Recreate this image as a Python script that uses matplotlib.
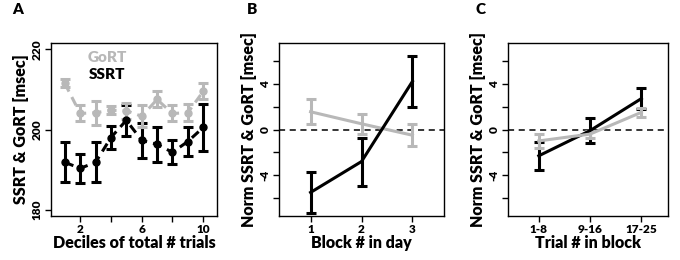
import numpy as np
import matplotlib.pyplot as plt

plt.rcParams['font.family'] = ['Lato', 'DejaVu Sans']
plt.rcParams['font.weight'] = 'heavy'

GRAY = '#b8b8b8'
W = 'heavy'

# panel A: deciles
dec = np.arange(1, 11)
gort_a = [211.5, 204.0, 204.2, 204.8, 204.7, 203.3, 207.5, 204.0, 204.2, 209.5]
gort_a_err = [1.0, 2.0, 3.0, 1.0, 2.0, 2.7, 2.0, 2.0, 2.2, 2.0]
ssrt_a = [191.8, 190.3, 191.8, 198.0, 202.3, 197.3, 196.3, 194.3, 197.0, 200.5]
ssrt_a_err = [5.0, 3.6, 5.0, 2.8, 3.8, 4.4, 4.4, 3.0, 3.6, 5.8]

# panel B: block in day
blocks = [1, 2, 3]
ssrt_b = [-5.5, -2.8, 4.2]
ssrt_b_err = [1.8, 2.1, 2.2]
gort_b = [1.55, 0.5, -0.5]
gort_b_err = [1.1, 0.85, 0.95]

# panel C: trial in block
trial_labels = ['1-8', '9-16', '17-25']
ssrt_c = [-2.3, -0.1, 2.7]
ssrt_c_err = [1.25, 1.1, 0.9]
gort_c = [-1.0, -0.4, 1.5]
gort_c_err = [0.6, 0.3, 0.4]

fig = plt.figure(figsize=(6.8, 2.6), dpi=100)
bot, h = 1 - 216 / 260, (216 - 43) / 260
axA = fig.add_axes([51 / 680, bot, 166 / 680, h])
axB = fig.add_axes([279 / 680, bot, 165 / 680, h])
axC = fig.add_axes([508 / 680, bot, 160 / 680, h])

ekw = dict(elinewidth=2.2, capsize=3.5, capthick=2.2)

axA.errorbar(dec, ssrt_a, yerr=ssrt_a_err, color='black', ls=(0, (3, 2)), lw=2.2,
             marker='o', ms=5, **ekw)
axA.errorbar(dec, gort_a, yerr=gort_a_err, color=GRAY, ls=(0, (3, 2)), lw=2.2,
             marker='o', ms=5, **ekw)
axA.set_xlim(0.1, 10.9)
axA.set_ylim(178.4, 221.6)
axA.set_xticks([2, 4, 6, 8, 10])
axA.set_xticklabels(['2', '', '6', '', '10'])
axA.set_yticks([180, 200, 220])
axA.set_ylabel('SSRT & GoRT [msec]', fontsize=11.5, fontweight=W, labelpad=2)
axA.set_xlabel('Deciles of total # trials', fontsize=11.5, fontweight=W, labelpad=0)
axA.text(0.34, 0.915, 'GoRT', transform=axA.transAxes, color=GRAY, fontsize=11,
         fontweight=W, ha='center', va='center')
axA.text(0.34, 0.82, 'SSRT', transform=axA.transAxes, color='black', fontsize=11,
         fontweight=W, ha='center', va='center')

axB.errorbar(blocks, gort_b, yerr=gort_b_err, color=GRAY, lw=2.2, **ekw)
axB.errorbar(blocks, ssrt_b, yerr=ssrt_b_err, color='black', lw=2.2, **ekw)
axB.set_xlim(0.38, 3.62)
axB.set_xticks(blocks)
axB.set_xlabel('Block # in day', fontsize=11.5, fontweight=W, labelpad=0)

axC.errorbar([1, 2, 3], ssrt_c, yerr=ssrt_c_err, color='black', lw=2.2, **ekw)
axC.errorbar([1, 2, 3], gort_c, yerr=gort_c_err, color=GRAY, lw=2.2, **ekw)
axC.set_xlim(0.4, 3.52)
axC.set_xticks([1, 2, 3])
axC.set_xticklabels(trial_labels)
axC.set_xlabel('Trial # in block', fontsize=11.5, fontweight=W, labelpad=0)

for ax in (axB, axC):
    ax.axhline(0, color='black', ls=(0, (4, 3)), lw=1.1, zorder=0)
    ax.set_ylim(-7.56, 7.56)
    ax.set_yticks([-6, -4, -2, 0, 2, 4, 6])
    ax.set_yticklabels(['', '-4', '', '0', '', '4', ''])
    ax.set_ylabel('Norm SSRT & GoRT [msec]', fontsize=11.5, fontweight=W, labelpad=2)

for ax in (axA, axB, axC):
    ax.tick_params(direction='out', length=4, width=1, labelsize=8.5, pad=2)
    for lab in ax.get_yticklabels():
        lab.set_rotation(90)
        lab.set_va('center')
    for s in ax.spines.values():
        s.set_linewidth(1)

fig.text(12 / 680, 1 - 10 / 260, 'A', fontsize=11, fontweight=W, va='center')
fig.text(247 / 680, 1 - 10 / 260, 'B', fontsize=11, fontweight=W, va='center')
fig.text(475 / 680, 1 - 10 / 260, 'C', fontsize=11, fontweight=W, va='center')

fig.savefig('out.png', dpi=100)
